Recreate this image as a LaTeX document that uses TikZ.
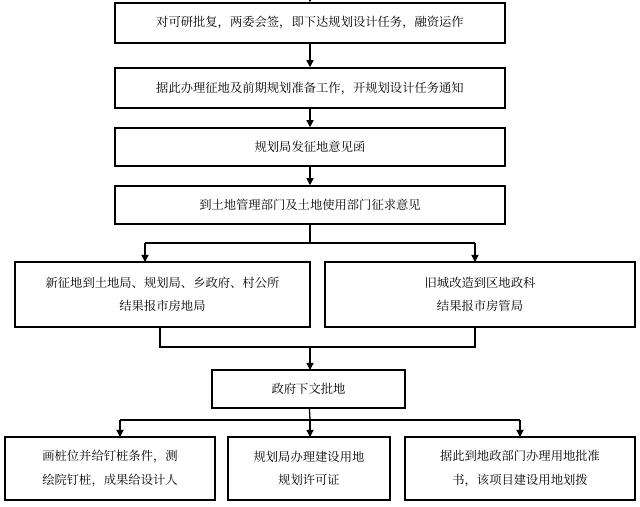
\documentclass[tikz,border=0pt]{standalone}
\usepackage{fontspec}
\newfontfamily\cjk{Noto Serif CJK SC}[Renderer=OpenType]
\usetikzlibrary{arrows.meta}
\begin{document}
\begin{tikzpicture}[x=0.03cm,y=-0.03cm,
  bx/.style={draw,line width=1.3pt,font=\cjk\fontsize{10.5}{20}\selectfont,align=center,inner sep=0},
  ar/.style={line width=1.1pt,-{Triangle[length=6pt,width=6pt]}},
  ln/.style={line width=1.1pt}]
\useasboundingbox (0,0) rectangle (640,507);
\newcommand\bxx[6]{\node[bx,minimum width=#4*0.03cm-#2*0.03cm,minimum height=#5*0.03cm-#3*0.03cm] (#1) at ({(#2+#4)/2},{(#3+#5)/2}) {#6};}
\bxx{b1}{115}{3}{505}{43}{对可研批复，两委会签，即下达规划设计任务，融资运作}
\bxx{b2}{115}{68}{505}{108}{据此办理征地及前期规划准备工作，开规划设计任务通知}
\bxx{b3}{115}{128}{505}{166}{规划局发征地意见函}
\bxx{b4}{115}{186}{505}{224}{到土地管理部门及土地使用部门征求意见}
\bxx{b5}{15}{262}{310}{327}{新征地到土地局、规划局、乡政府、村公所\\结果报市房地局}
\bxx{b6}{325}{262}{635}{327}{旧城改造到区地政科\\结果报市房管局}
\bxx{b7}{212}{370}{405}{408}{政府下文批地}
\bxx{b8}{5}{437}{215}{500}{画桩位并给钉桩条件，测\\绘院钉桩，成果给设计人}
\bxx{b9}{228}{437}{390}{500}{规划局办理建设用地\\规划许可证}
\bxx{b10}{405}{437}{635}{500}{据此到地政部门办理用地批准\\书，该项目建设用地划拨}
\coordinate (top) at (310,0);
\draw[ar] (top) -- (b1);
\draw[ar] (b1) -- (b2);
\draw[ar] (b2) -- (b3);
\draw[ar] (b3) -- (b4);
\coordinate (s1) at (310,243);
\draw[ln] (b4) -- (s1);
\draw[ln] (145,243) -- (475,243);
\draw[ar] (145,243) -- (145,262);
\draw[ar] (475,243) -- (475,262);
\draw[ln] (160,327) -- (160,347) -- (475,347) -- (475,327);
\draw[ar] (310,347) -- (310,370);
\draw[ln] (b7) -- (310,420);
\draw[ln] (120,420) -- (520,420);
\draw[ar] (120,420) -- (120,437);
\draw[ar] (310,420) -- (310,437);
\draw[ar] (520,420) -- (520,437);
\end{tikzpicture}
\end{document}
